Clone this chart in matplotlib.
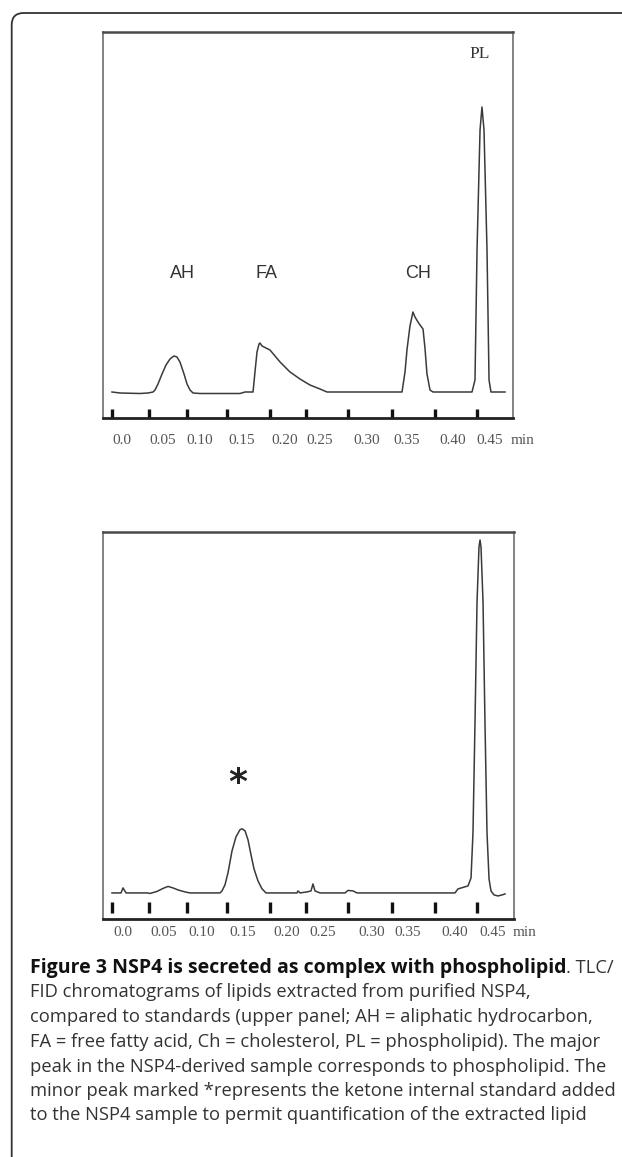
import matplotlib
matplotlib.use("Agg")
import matplotlib.pyplot as plt
from matplotlib.patches import FancyBboxPatch

# ---------------- data (retention time in min, detector signal in a.u.) ----------------
std_time = [0.0, 0.0099, 0.0345, 0.0444, 0.0506, 0.0530, 0.0567, 0.0617, 0.0666, 0.0715,
            0.0764, 0.0801, 0.0838, 0.0888, 0.0925, 0.0962, 0.0999, 0.1085, 0.1332, 0.1578,
            0.1640, 0.1739, 0.1763, 0.1788, 0.1813, 0.1825, 0.1850, 0.1948, 0.2072, 0.2195,
            0.2318, 0.2441, 0.2565, 0.2651, 0.3058, 0.3576, 0.3613, 0.3637, 0.3674, 0.3711,
            0.3736, 0.3773, 0.3798, 0.3835, 0.3859, 0.3884, 0.3921, 0.3958, 0.4168, 0.4439,
            0.4476, 0.4501, 0.4538, 0.4562, 0.4587, 0.4624, 0.4649, 0.4673, 0.4723, 0.4846]
std_signal = [0, -1, -1.5, -1, 0, 2, 8, 18, 27, 33,
              36, 35, 30, 18, 8, 2, -1, -1.5, -1.5, -1.5,
              0, 0, 20, 40, 48, 49, 46, 42, 30, 20,
              13, 7, 3, 0, 0, 0, 20, 42, 66, 80,
              75, 70, 67, 63, 44, 18, 2, 0, 0, 0,
              12, 142, 262, 285, 262, 142, 12, 0, 0, 0]

nsp4_time = [0.0, 0.0111, 0.0136, 0.0173, 0.0432, 0.0469, 0.0555, 0.0629, 0.0691, 0.0752,
             0.0814, 0.0900, 0.0962, 0.1332, 0.1356, 0.1393, 0.1430, 0.1480, 0.1529, 0.1578,
             0.1603, 0.1640, 0.1677, 0.1714, 0.1751, 0.1800, 0.1850, 0.1899, 0.2281, 0.2293,
             0.2318, 0.2404, 0.2454, 0.2478, 0.2503, 0.2565, 0.2873, 0.2910, 0.2972, 0.3021,
             0.4229, 0.4266, 0.4328, 0.4390, 0.4427, 0.4451, 0.4476, 0.4501, 0.4525, 0.4538,
             0.4550, 0.4575, 0.4599, 0.4624, 0.4649, 0.4673, 0.4710, 0.4760, 0.4809, 0.4846]
nsp4_signal = [0, 0, 5, 0, 0, -0.5, 1.5, 4.5, 6.5, 5,
               3, 1, 0, 0, 2, 8, 20, 42, 56, 63,
               64, 62, 53, 38, 24, 12, 4, 0, 0, 2,
               0, 1, 2, 9, 2, 0, 0, 2.5, 2, 0,
               0, 4, 5.5, 7, 15, 60, 170, 290, 345, 352,
               345, 290, 170, 60, 14, 2, -2, -3, -2, -1]

tick_times = [0.0, 0.0456, 0.0925, 0.1418, 0.1948, 0.2392, 0.2910, 0.3453, 0.3982, 0.4500]
tick_labels = ["0.0", "0.05", "0.10", "0.15", "0.20", "0.25", "0.30", "0.35", "0.40", "0.45", "min"]

peak_names = ["AH", "FA", "CH", "PL"]
peak_times = [0.0875, 0.1911, 0.3773, 0.4562]

caption_bold = "Figure 3 NSP4 is secreted as complex with phospholipid"
caption_lines = [
    ". TLC/",
    "FID chromatograms of lipids extracted from purified NSP4,",
    "compared to standards (upper panel; AH = aliphatic hydrocarbon,",
    "FA = free fatty acid, Ch = cholesterol, PL = phospholipid). The major",
    "peak in the NSP4-derived sample corresponds to phospholipid. The",
    "minor peak marked *represents the ketone internal standard added",
    "to the NSP4 sample to permit quantification of the extracted lipid",
]

# ---------------- layout ----------------
W, H = 622, 1157
fig = plt.figure(figsize=(W / 100, H / 100), dpi=100)

def px_axes(l, t, r, b):
    return fig.add_axes([l / W, 1 - b / H, (r - l) / W, (b - t) / H])

# x-range in minutes mapped to panel width; px = 112 + 811 * t
xl = (103 - 112) / 811
xr_u = (513 - 112) / 811
xr_l = (514 - 112) / 811

ax1 = px_axes(103, 32, 513, 418)
ax2 = px_axes(103, 532, 514, 919)

label_px_up = [122, 163, 200, 242, 285, 320, 367, 407, 453, 490, 523]
label_px_lo = [123, 164, 202, 243, 287, 323, 372, 408, 455, 493, 525]

serif = ["Liberation Serif", "DejaVu Serif"]
sans = ["Liberation Sans", "DejaVu Sans"]

for ax, t, s, xr, tick_span, lab_px, lab_y in [
        (ax1, std_time, std_signal, xr_u, (-26, -17), label_px_up, 441),
        (ax2, nsp4_time, nsp4_signal, xr_l, (-20, -9), label_px_lo, 933)]:
    ax.plot(t, s, color="#3a3a3a", lw=1.1, solid_joinstyle="round")
    ax.set_xlim(xl, xr)
    ax.set_ylim(-26, 360)
    ax.set_xticks([])
    ax.set_yticks([])
    ax.vlines(tick_times, tick_span[0], tick_span[1], color="#111111", lw=2.4)
    for sp in ["left", "right"]:
        ax.spines[sp].set_color("#7a7a7a")
        ax.spines[sp].set_linewidth(1.3)
    ax.spines["top"].set_color("#4a4a4a")
    ax.spines["top"].set_linewidth(1.8)
    ax.spines["bottom"].set_color("#222222")
    ax.spines["bottom"].set_linewidth(2.0)
    for lab, px in zip(tick_labels, lab_px):
        fig.text(px / W, 1 - lab_y / H, lab, ha="center", va="center",
                 family=serif, fontsize=11, color="#555555")

# peak labels
for name, pt in zip(peak_names[:3], peak_times[:3]):
    ax1.text(pt, 119, name, ha="center", va="center", family=sans,
             fontsize=13, color="#333333")
ax1.text(peak_times[3] - 0.0025, 338, peak_names[3], ha="center", va="center",
         family=serif, fontsize=12.5, color="#333333")
ax2.text(0.1554, 110, "*", ha="center", va="center", family=["DejaVu Sans"],
         fontsize=26, fontweight="bold", color="#222222")

# outer rounded frame
frame = FancyBboxPatch((0.117, -0.3), 8.0, (H - 13) / 100 + 0.3,
                       boxstyle="round,pad=0,rounding_size=0.12",
                       transform=fig.dpi_scale_trans, fill=False,
                       edgecolor="#333333", lw=1.3)
fig.add_artist(frame)

# caption (size fitted to the measured line widths of the reference)
cap_font = ["Open Sans", "DejaVu Sans"]
line_y = [968, 992, 1016.5, 1042, 1067, 1091, 1115.5]
x0 = 30
fig.canvas.draw()
r = fig.canvas.get_renderer()

def width_at(txt, size, weight="normal"):
    tt = fig.text(0, 0, txt, family=cap_font, fontsize=size, fontweight=weight)
    w = tt.get_window_extent(renderer=r).width
    tt.remove()
    return w

max_w = max(width_at(l, 12) for l in caption_lines[1:])
cap_size = 12 * 580 / max_w
tail_w = width_at(caption_lines[0], cap_size)
bold_size = 12 * (582 - tail_w) / width_at(caption_bold, 12, "bold")

tb = fig.text(x0 / W, 1 - line_y[0] / H, caption_bold, ha="left", va="center",
              family=cap_font, fontsize=bold_size, fontweight="bold", color="#111111")
bb = tb.get_window_extent(renderer=r)
fig.text(bb.x1 / W, 1 - line_y[0] / H, caption_lines[0], ha="left", va="center",
         family=cap_font, fontsize=cap_size, color="#333333")
for y, line in zip(line_y[1:], caption_lines[1:]):
    fig.text(x0 / W, 1 - y / H, line, ha="left", va="center",
             family=cap_font, fontsize=cap_size, color="#333333")

fig.savefig("out.png", dpi=100)
